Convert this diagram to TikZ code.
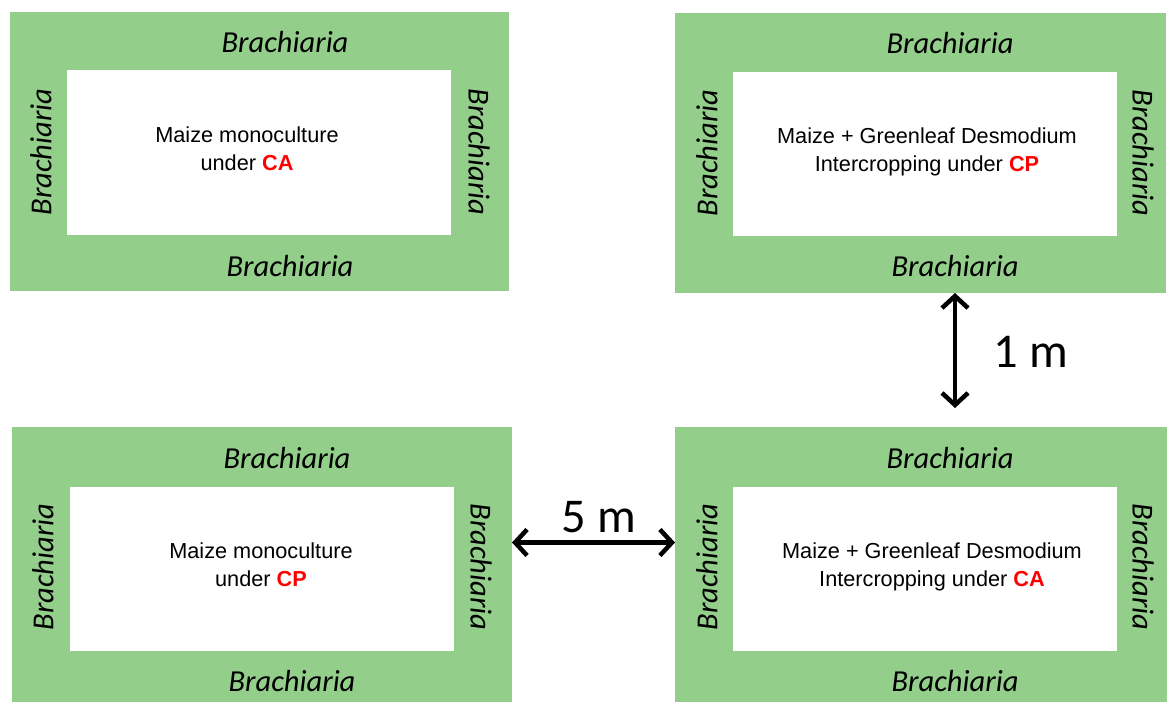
\documentclass[tikz,border=0pt]{standalone}
\usepackage{fontspec}
\setmainfont{Liberation Sans}
\newfontfamily\calib{Carlito}
\usetikzlibrary{arrows.meta}
\definecolor{grass}{RGB}{147,206,139}
\definecolor{redlab}{RGB}{255,0,0}
\tikzset{
  field/.style={fill=grass, draw=none, inner sep=0pt, outer sep=0pt, anchor=north west},
  plot/.style={fill=white, draw=none, inner sep=0pt, outer sep=0pt, anchor=north west},
  brach/.style={font=\calib\itshape\fontsize{30.5}{36}\selectfont, inner sep=0pt},
  desc/.style={font=\fontsize{21.7}{28}\selectfont, align=center, inner sep=0pt},
  dimarr/.style={line width=4.5pt, {Straight Barb[length=12pt,width=26pt,line width=4.5pt]}-{Straight Barb[length=12pt,width=26pt,line width=4.5pt]}},
  dimlab/.style={font=\calib\fontsize{48.5}{54}\selectfont, inner sep=0pt}
}
\newcommand{\red}[1]{\textcolor{redlab}{\textbf{#1}}}
\begin{document}
\begin{tikzpicture}[x=1pt,y=-1pt]
\useasboundingbox (0,0) rectangle (1167,702);
% top-left
\node[field, minimum width=499pt, minimum height=279pt] (g1) at (10,12) {};
\node[plot, minimum width=384pt, minimum height=165pt] (w1) at (67,70) {};
\node[brach] (t1) at (285,42) {Brachiaria};
\node[brach] (b1) at (290,266) {Brachiaria};
\node[brach, rotate=90] (l1) at (41,152) {Brachiaria};
\node[brach, rotate=-90] (r1) at (479,152) {Brachiaria};
\node[desc] (d1) at ([xshift=-12pt,yshift=4pt]w1.center) {Maize monoculture\\under \red{CA}};
% top-right
\node[field, minimum width=491pt, minimum height=280pt] (g2) at (675,13) {};
\node[plot, minimum width=384pt, minimum height=164pt] (w2) at (733,72) {};
\node[brach] (t2) at (950,43) {Brachiaria};
\node[brach] (b2) at (955,266) {Brachiaria};
\node[brach, rotate=90] (l2) at (707,153) {Brachiaria};
\node[brach, rotate=-90] (r2) at (1143,153) {Brachiaria};
\node[desc] (d2) at ([xshift=2pt,yshift=2pt]w2.center) {Maize + Greenleaf Desmodium\\Intercropping under \red{CP}};
% bottom-left
\node[field, minimum width=500pt, minimum height=275pt] (g3) at (12,427) {};
\node[plot, minimum width=384pt, minimum height=164pt] (w3) at (70,487) {};
\node[brach] (t3) at (287,458) {Brachiaria};
\node[brach] (b3) at (292,681) {Brachiaria};
\node[brach, rotate=90] (l3) at (43,567) {Brachiaria};
\node[brach, rotate=-90] (r3) at (481,567) {Brachiaria};
\node[desc] (d3) at ([xshift=-1pt,yshift=4pt]w3.center) {Maize monoculture\\under \red{CP}};
% bottom-right
\node[field, minimum width=492pt, minimum height=275pt] (g4) at (675,427) {};
\node[plot, minimum width=384pt, minimum height=164pt] (w4) at (733,487) {};
\node[brach] (t4) at (950,458) {Brachiaria};
\node[brach] (b4) at (955,681) {Brachiaria};
\node[brach, rotate=90] (l4) at (707,567) {Brachiaria};
\node[brach, rotate=-90] (r4) at (1143,567) {Brachiaria};
\node[desc] (d4) at ([xshift=7pt,yshift=2pt]w4.center) {Maize + Greenleaf Desmodium\\Intercropping under \red{CA}};
% dimensions
\draw[dimarr] ([xshift=280pt]g2.south west) -- ([xshift=280pt,yshift=19pt]g4.north west);
\node[dimlab] (m1) at (1031,352) {1 m};
\draw[dimarr] ([yshift=22pt]g3.east) -- ([yshift=22pt]g4.west);
\node[dimlab] (m5) at (599,517) {5 m};
\end{tikzpicture}
\end{document}
